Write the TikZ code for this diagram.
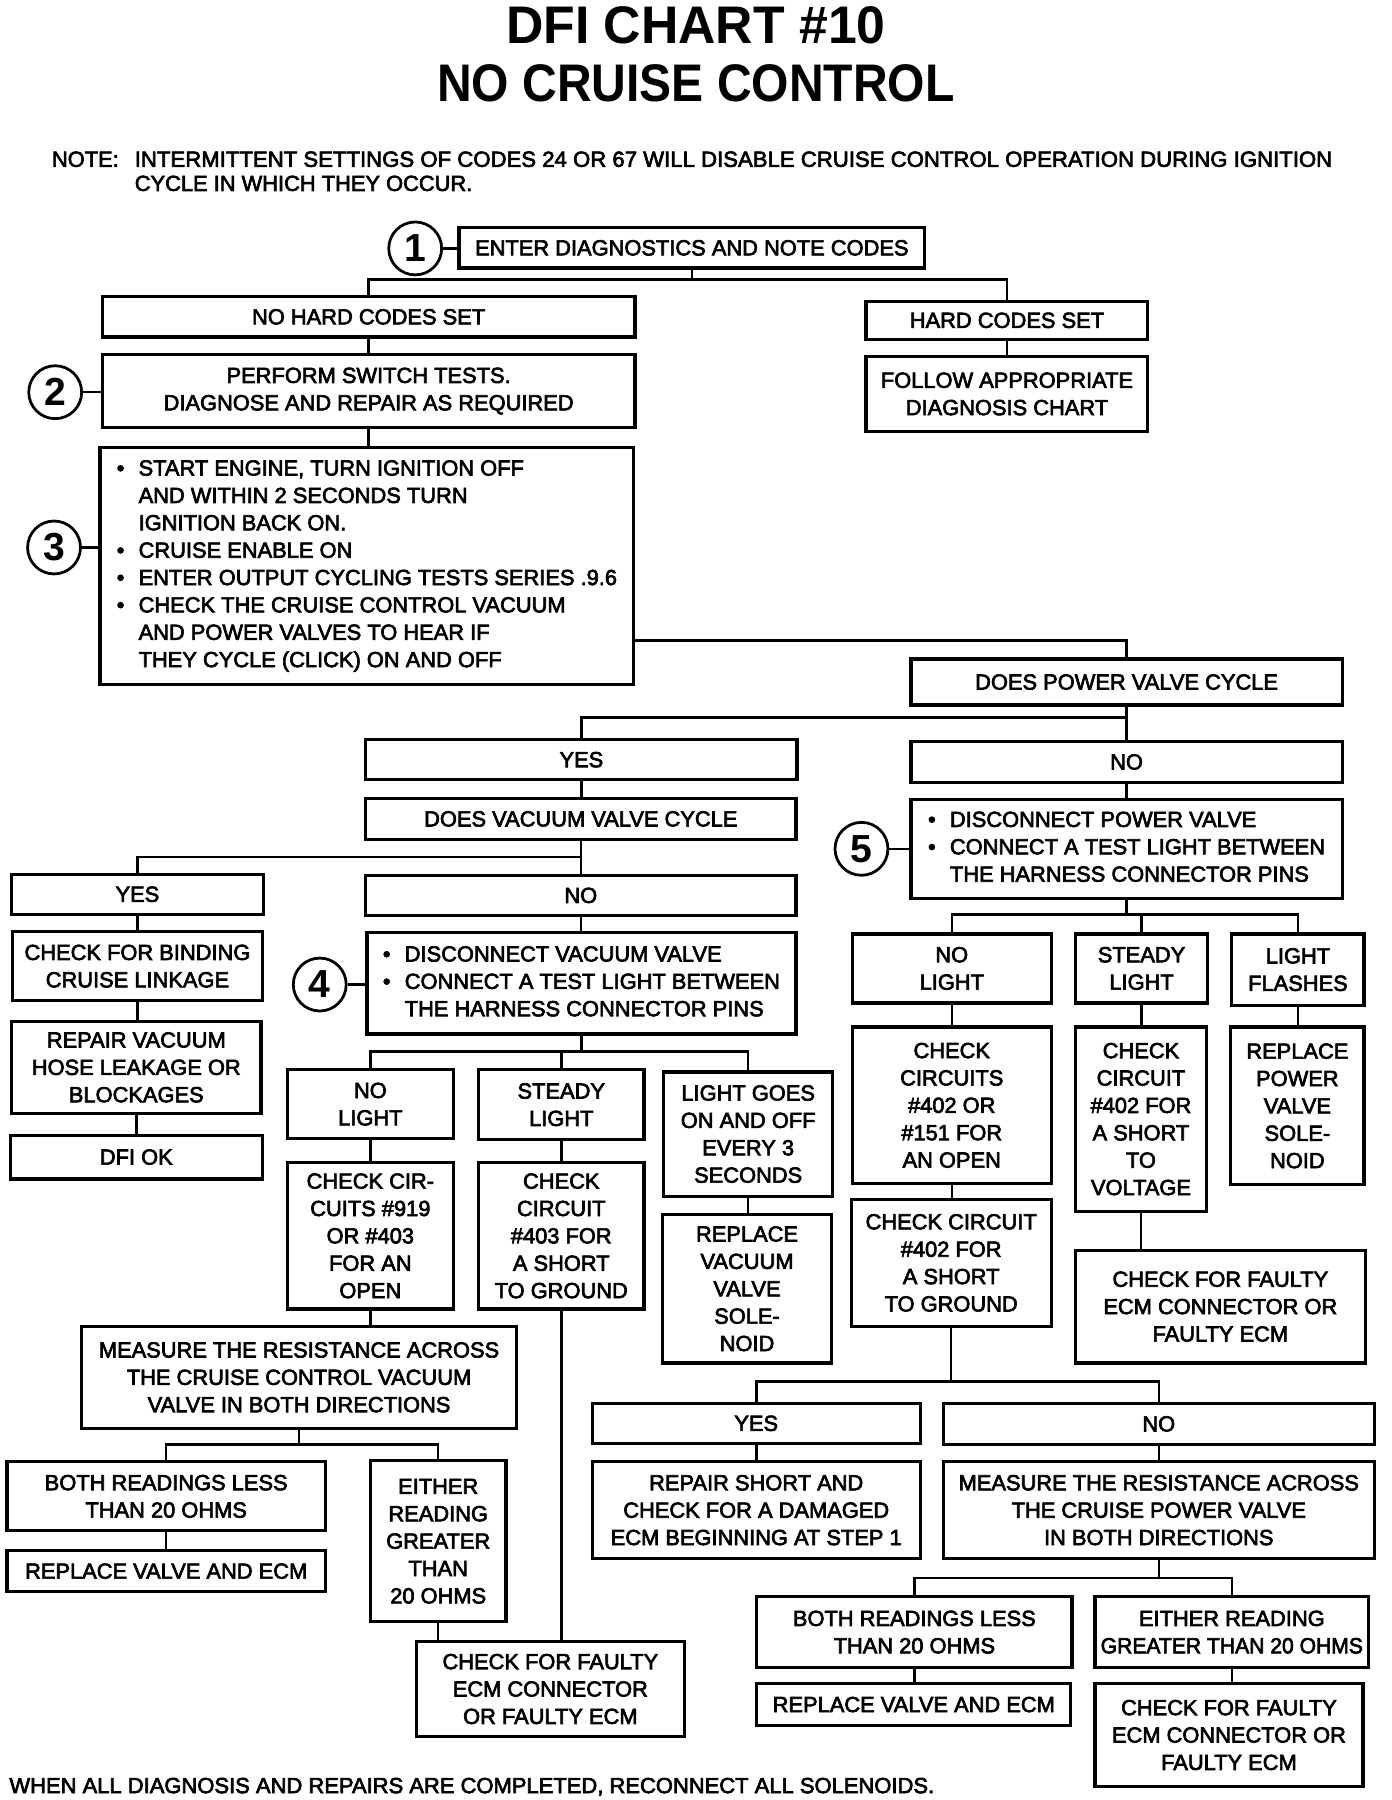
\documentclass[tikz,border=0pt]{standalone}
\usepackage{fontspec}
\setmainfont{Liberation Sans}[FakeBold=3]
\newfontfamily\bodyfam{Liberation Sans}[FakeBold=3]
\newfontfamily\titlefam{Liberation Sans Bold}
\usepackage{graphicx}
\newcommand\bodyfont{\bodyfam\fontsize{19}{23.8}\selectfont}
\newcommand\mybox[7][align=center]{\node[box,#1,minimum width={(#5)-(#3)},minimum height={(#6)-(#4)}] (#2) at ({((#3)+(#5))/2},{((#4)+(#6))/2}) {#7};}
\newcommand\blist[1]{\begin{tabular}{@{}l@{\hspace{12.4pt}}l@{}}#1\end{tabular}}
\begin{document}
\begin{tikzpicture}[x=1pt,y=-1pt,
  box/.style={draw, line width=2.8pt, inner sep=0pt, font=\bodyfont},
  conn/.style={line width=2.2pt},
  circ/.style={circle, draw, line width=2.4pt, minimum size=46pt, inner sep=0pt, font=\titlefam\fontsize{34}{34}\selectfont},
  txt/.style={inner sep=0pt, font=\bodyfont}]
\useasboundingbox (0,0) rectangle (1210,1565);
% titles
\node[anchor=base, inner sep=0pt, font=\titlefam\fontsize{46}{46}\selectfont] (t1) at (605,38) {\resizebox{330pt}{\height}{DFI CHART \#10}};
\node[anchor=base, inner sep=0pt, font=\titlefam\fontsize{46}{46}\selectfont] (t2) at (605,88) {\resizebox{450pt}{\height}{NO CRUISE CONTROL}};
\node[txt, anchor=base west] (note) at (45,145) {NOTE:};
\node[txt, anchor=base west] (n1) at (117,145) {\resizebox{1041pt}{\height}{INTERMITTENT SETTINGS OF CODES 24 OR 67 WILL DISABLE CRUISE CONTROL OPERATION DURING IGNITION}};
\node[txt, anchor=base west] (n2) at (117,166) {CYCLE IN WHICH THEY OCCUR.};
\node[txt, anchor=base west] (foot) at (8,1559) {\resizebox{804pt}{\height}{WHEN ALL DIAGNOSIS AND REPAIRS ARE COMPLETED, RECONNECT ALL SOLENOIDS.}};
% boxes
\mybox{b1}{399}{198}{804}{233}{ENTER DIAGNOSTICS AND NOTE CODES}
\mybox{nohard}{89}{258}{552}{293}{NO HARD CODES SET}
\mybox{hard}{753}{262}{998}{295}{HARD CODES SET}
\mybox{follow}{753}{310}{998}{375}{FOLLOW APPROPRIATE\\DIAGNOSIS CHART}
\mybox{perform}{89}{308}{552}{372}{PERFORM SWITCH TESTS.\\DIAGNOSE AND REPAIR AS REQUIRED}
\mybox[]{b3}{87}{389}{551}{595}{\blist{\textbullet & START ENGINE, TURN IGNITION OFF\\
 & AND WITHIN 2 SECONDS TURN\\
 & IGNITION BACK ON.\\
\textbullet & CRUISE ENABLE ON\\
\textbullet & ENTER OUTPUT CYCLING TESTS SERIES .9.6\\
\textbullet & CHECK THE CRUISE CONTROL VACUUM\\
 & AND POWER VALVES TO HEAR IF\\
 & THEY CYCLE (CLICK) ON AND OFF}}
\mybox{pvc}{792}{573}{1167}{613}{DOES POWER VALVE CYCLE}
\mybox{yes1}{318}{643}{693}{678}{YES}
\mybox{no1}{792}{645}{1167}{680}{NO}
\mybox{vvc}{318}{694}{692}{730}{DOES VACUUM VALVE CYCLE}
\mybox[]{b5}{792}{695}{1167}{781}{\blist{\textbullet & DISCONNECT POWER VALVE\\
\textbullet & CONNECT A TEST LIGHT BETWEEN\\
 & THE HARNESS CONNECTOR PINS}}
\mybox{yes2}{10}{760}{229}{795}{YES}
\mybox{no2}{318}{761}{692}{796}{NO}
\mybox{bind}{11}{810}{228}{870}{CHECK FOR BINDING\\CRUISE LINKAGE}
\mybox{hose}{10}{888}{227}{968}{REPAIR VACUUM\\HOSE LEAKAGE OR\\BLOCKAGES}
\mybox{dfiok}{9}{987}{228}{1025}{DFI OK}
\mybox[]{b4}{319}{811}{692}{899}{\blist{\textbullet & DISCONNECT VACUUM VALVE\\
\textbullet & CONNECT A TEST LIGHT BETWEEN\\
 & THE HARNESS CONNECTOR PINS}}
\mybox{nl1}{250}{930}{394}{990}{NO\\LIGHT}
\mybox{sl1}{416}{930}{560}{991}{STEADY\\LIGHT}
\mybox{lg}{577}{932}{724}{1040}{LIGHT GOES\\ON AND OFF\\EVERY 3\\SECONDS}
\mybox{cc1}{250}{1011}{394}{1138}{CHECK CIR-\\CUITS \#919\\OR \#403\\FOR AN\\OPEN}
\mybox{cc2}{416}{1011}{560}{1138}{CHECK\\CIRCUIT\\\#403 FOR\\A SHORT\\TO GROUND}
\mybox{rvv}{576}{1056}{723}{1185}{REPLACE\\VACUUM\\VALVE\\SOLE-\\NOID}
\mybox{meas1}{71}{1153}{449}{1242}{MEASURE THE RESISTANCE ACROSS\\THE CRUISE CONTROL VACUUM\\VALVE IN BOTH DIRECTIONS}
\mybox{both1}{6}{1271}{283}{1331}{BOTH READINGS LESS\\THAN 20 OHMS}
\mybox{eith1}{322}{1270}{440}{1410}{EITHER\\READING\\GREATER\\THAN\\20 OHMS}
\mybox{repl1}{6}{1348}{283}{1384}{REPLACE VALVE AND ECM}
\mybox{faulty1}{362}{1427}{595}{1510}{CHECK FOR FAULTY\\ECM CONNECTOR\\OR FAULTY ECM}
\mybox{nl2}{741}{812}{914}{872}{NO\\LIGHT}
\mybox{sl2}{935}{812}{1050}{872}{STEADY\\LIGHT}
\mybox{lf}{1071}{812}{1186}{874}{LIGHT\\FLASHES}
\mybox{cc3}{741}{893}{914}{1029}{CHECK\\CIRCUITS\\\#402 OR\\\#151 FOR\\AN OPEN}
\mybox{cc4}{935}{893}{1049}{1053}{CHECK\\CIRCUIT\\\#402 FOR\\A SHORT\\TO\\VOLTAGE}
\mybox{rpv}{1070}{893}{1186}{1030}{REPLACE\\POWER\\VALVE\\SOLE-\\NOID}
\mybox{cc5}{740}{1043}{914}{1153}{CHECK CIRCUIT\\\#402 FOR\\A SHORT\\TO GROUND}
\mybox{faulty2}{935}{1087}{1187}{1185}{CHECK FOR FAULTY\\ECM CONNECTOR OR\\FAULTY ECM}
\mybox{yes3}{515}{1220}{800}{1255}{YES}
\mybox{no3}{820}{1220}{1195}{1256}{NO}
\mybox{repair}{515}{1271}{800}{1355}{REPAIR SHORT AND\\CHECK FOR A DAMAGED\\ECM BEGINNING AT STEP 1}
\mybox{meas2}{820}{1271}{1195}{1355}{MEASURE THE RESISTANCE ACROSS\\THE CRUISE POWER VALVE\\IN BOTH DIRECTIONS}
\mybox{both2}{658}{1388}{932}{1450}{BOTH READINGS LESS\\THAN 20 OHMS}
\mybox{eith2}{952}{1388}{1190}{1450}{EITHER READING\\\resizebox{228pt}{\height}{GREATER THAN 20 OHMS}}
\mybox{repl2}{658}{1464}{931}{1500}{REPLACE VALVE AND ECM}
\mybox{faulty3}{952}{1464}{1185}{1553}{CHECK FOR FAULTY\\ECM CONNECTOR OR\\FAULTY ECM}
% circles
\node[circ] (c1) at (361,216) {1};
\node[circ] (c2) at (48,341) {2};
\node[circ] (c3) at (47,476) {3};
\node[circ] (c4) at (278,856) {4};
\node[circ] (c5) at (749,738) {5};
\draw[conn] (c1.east) -- (c1.east -| b1.west);
\draw[conn] (c2.east) -- (c2.east -| perform.west);
\draw[conn] (c3.east) -- (c3.east -| b3.west);
\draw[conn] (c4.east) -- (c4.east -| b4.west);
\draw[conn] (c5.east) -- (c5.east -| b5.west);
% connectors
\coordinate (j1) at (b1.south |- 0,243);
\draw[conn] (b1.south) -- (j1) -| (nohard.north);
\draw[conn] (j1) -| (hard.north);
\draw[conn] (nohard.south) -- (nohard.south |- perform.north);
\draw[conn] (hard.south) -- (hard.south |- follow.north);
\draw[conn] (perform.south) -- (perform.south |- b3.north);
\draw[conn] (b3.east |- 0,557) -| (pvc.north);
\coordinate (j2) at (pvc.south |- 0,624);
\draw[conn] (pvc.south) -- (j2) -| (yes1.north);
\draw[conn] (j2) -- (j2 |- no1.north);
\draw[conn] (yes1.south) -- (yes1.south |- vvc.north);
\coordinate (j3) at (vvc.south |- 0,745);
\draw[conn] (vvc.south) -- (j3) -| (yes2.north);
\draw[conn] (j3) -- (j3 |- no2.north);
\draw[conn] (no1.south) -- (no1.south |- b5.north);
\draw[conn] (yes2.south) -- (yes2.south |- bind.north);
\draw[conn] (bind.south) -- (bind.south |- hose.north);
\draw[conn] (hose.south) -- (hose.south |- dfiok.north);
\draw[conn] (no2.south) -- (no2.south |- b4.north);
\coordinate (j4) at (b4.south |- 0,914);
\draw[conn] (b4.south) -- (j4) -| (nl1.north);
\draw[conn] (j4) -| (sl1.north);
\draw[conn] (j4) -| (lg.north);
\draw[conn] (nl1.south) -- (nl1.south |- cc1.north);
\draw[conn] (sl1.south) -- (sl1.south |- cc2.north);
\draw[conn] (lg.south) -- (lg.south |- rvv.north);
\draw[conn] (cc1.south) -- (cc1.south |- meas1.north);
\draw[conn] (cc2.south) -- (cc2.south |- faulty1.north);
\coordinate (j5) at (meas1.south |- 0,1256);
\draw[conn] (meas1.south) -- (j5) -| (both1.north);
\draw[conn] (j5) -| (eith1.north);
\draw[conn] (both1.south) -- (both1.south |- repl1.north);
\draw[conn] (eith1.south) -- (eith1.south |- faulty1.north);
\coordinate (j6) at (b5.south |- 0,795);
\draw[conn] (b5.south) -- (j6) -| (nl2.north);
\draw[conn] (j6) -| (sl2.north);
\draw[conn] (j6) -| (lf.north);
\draw[conn] (nl2.south) -- (nl2.south |- cc3.north);
\draw[conn] (cc3.south) -- (cc3.south |- cc5.north);
\draw[conn] (sl2.south) -- (sl2.south |- cc4.north);
\draw[conn] (cc4.south) -- (cc4.south |- faulty2.north);
\draw[conn] (lf.south) -- (lf.south |- rpv.north);
\coordinate (j7) at (cc5.south |- 0,1201);
\draw[conn] (cc5.south) -- (j7) -| (yes3.north);
\draw[conn] (j7) -| (no3.north);
\draw[conn] (yes3.south) -- (yes3.south |- repair.north);
\draw[conn] (no3.south) -- (no3.south |- meas2.north);
\coordinate (j8) at (meas2.south |- 0,1372);
\draw[conn] (meas2.south) -- (j8) -| (both2.north);
\draw[conn] (j8) -| (eith2.north);
\draw[conn] (both2.south) -- (both2.south |- repl2.north);
\draw[conn] (eith2.south) -- (eith2.south |- faulty3.north);
\end{tikzpicture}
\end{document}
